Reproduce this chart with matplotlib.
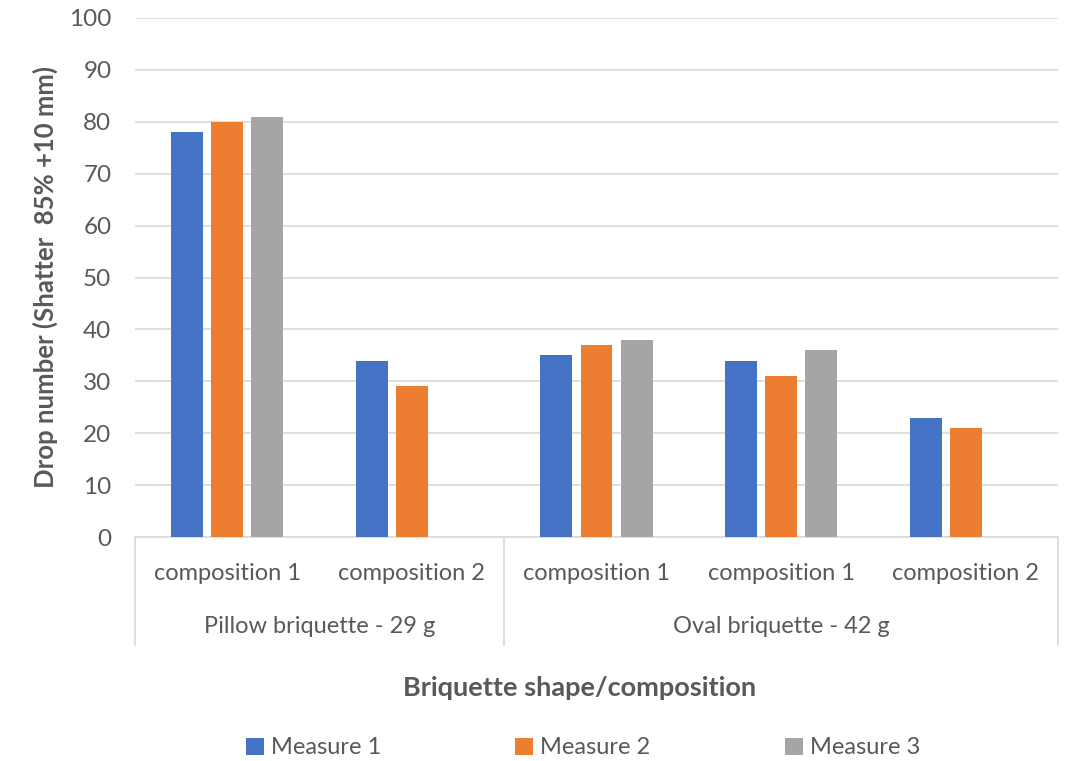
import matplotlib.pyplot as plt
import numpy as np

plt.rcParams["font.family"] = ["Lato", "DejaVu Sans"]

# drop test results per briquette shape / composition
categories = ["composition 1", "composition 2", "composition 1", "composition 1", "composition 2"]
groups = ["Pillow briquette - 29 g", "Oval briquette - 42 g"]
group_sizes = [2, 3]
measure_1 = [78, 34, 35, 34, 23]
measure_2 = [80, 29, 37, 31, 21]
measure_3 = [81, np.nan, 38, 36, np.nan]
series_names = ["Measure 1", "Measure 2", "Measure 3"]
colors = ["#4472C4", "#ED7D31", "#A5A5A5"]
yticks = list(range(0, 101, 10))

text_col = "#595959"
line_col = "#D9D9D9"

fig = plt.figure(figsize=(10.66, 7.61), dpi=100)
ax = fig.add_axes([135 / 1066, 224 / 761, 923 / 1066, 519 / 761])

x = np.arange(len(categories))
width = 0.173
step = 0.217
for i, (vals, name, col) in enumerate(zip([measure_1, measure_2, measure_3], series_names, colors)):
    ax.bar(x + (i - 1) * step, vals, width, color=col, label=name, zorder=3)

ax.set_xlim(-0.5, len(categories) - 0.5)
ax.set_ylim(0, 100)
ax.set_yticks(yticks)
ax.tick_params(axis="y", length=0, pad=17, labelsize=17.5, labelcolor=text_col)
ax.grid(axis="y", color=line_col, linewidth=1.2, zorder=0)
for side in ["top", "right", "left"]:
    ax.spines[side].set_visible(False)
ax.spines["bottom"].set_color(line_col)
ax.spines["bottom"].set_linewidth(1.2)

# two-level category axis
ax.set_xticks([])
tr = ax.get_xaxis_transform()
for xi, lab in zip(x, categories):
    ax.text(xi, -0.071, lab, transform=tr, ha="center", va="center",
            fontsize=17, color=text_col)
bounds = np.concatenate([[0], np.cumsum(group_sizes)]) - 0.5
for b in bounds:
    ax.plot([b, b], [0, -0.208], transform=tr, color=line_col, lw=1.2, clip_on=False)
for lo, hi, g in zip(bounds[:-1], bounds[1:], groups):
    ax.text((lo + hi) / 2, -0.173, g, transform=tr, ha="center", va="center",
            fontsize=17, color=text_col)

ax.set_ylabel("Drop number (Shatter  85% +10 mm)", fontsize=18.5, fontweight="bold",
              color=text_col, labelpad=8)
fig.text(580 / 1066, 1 - 688 / 761, "Briquette shape/composition", ha="center", va="center",
         fontsize=19.5, fontweight="bold", color=text_col)

leg = fig.legend(loc="center", bbox_to_anchor=(583 / 1066, 1 - 748 / 761), ncol=3,
                 frameon=False, fontsize=17, handlelength=0.75, handleheight=0.75,
                 handletextpad=0.3, columnspacing=5.7, labelcolor=text_col)

fig.savefig("out.png", dpi=100)
